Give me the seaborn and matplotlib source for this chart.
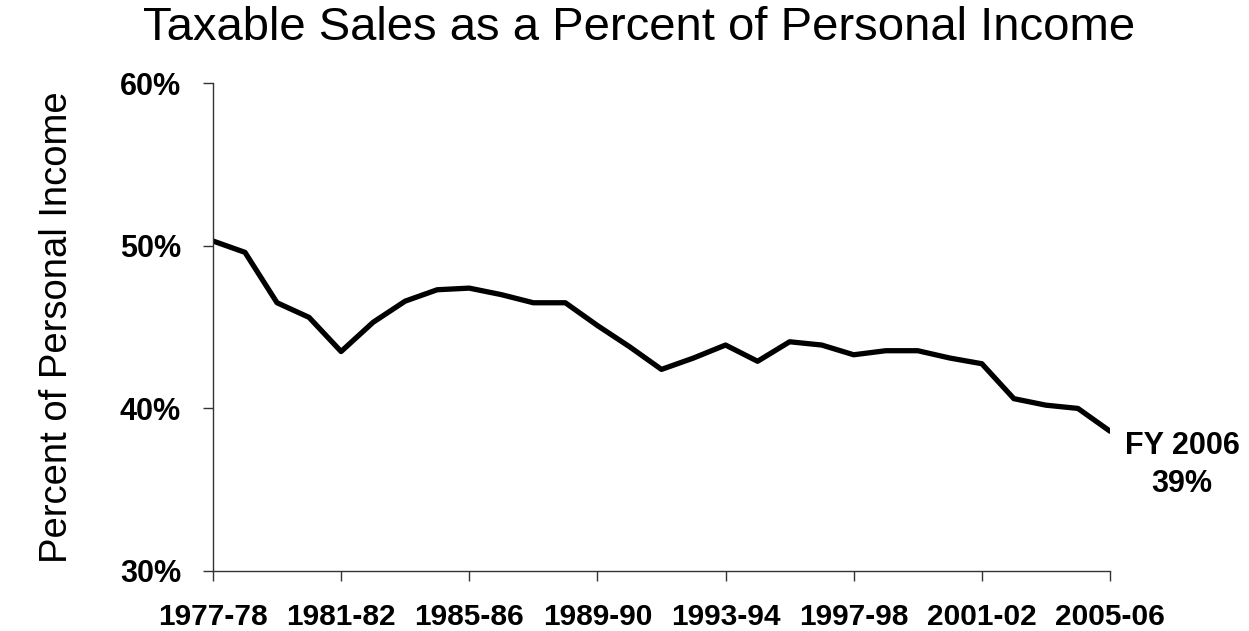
import matplotlib

matplotlib.use("Agg")

import matplotlib.pyplot as plt
import pandas as pd
import seaborn as sns

fiscal_years = [
    "1977-78", "1978-79", "1979-80", "1980-81", "1981-82", "1982-83",
    "1983-84", "1984-85", "1985-86", "1986-87", "1987-88", "1988-89",
    "1989-90", "1990-91", "1991-92", "1992-93", "1993-94", "1994-95",
    "1995-96", "1996-97", "1997-98", "1998-99", "1999-00", "2000-01",
    "2001-02", "2002-03", "2003-04", "2004-05", "2005-06",
]
pct_of_income = [
    50.3, 49.6, 46.5, 45.6, 43.5, 45.3,
    46.6, 47.3, 47.4, 47.0, 46.5, 46.5,
    45.1, 43.8, 42.4, 43.1, 43.9, 42.9,
    44.1, 43.9, 43.3, 43.55, 43.55, 43.1,
    42.75, 40.6, 40.2, 40.0, 38.6,
]
tick_labels = fiscal_years[::4]
y_ticks = [30, 40, 50, 60]

sns.set_style("ticks")
plt.rcParams["font.family"] = ["Liberation Sans", "DejaVu Sans"]
plt.rcParams["text.color"] = "black"
plt.rcParams["axes.labelcolor"] = "black"
plt.rcParams["xtick.color"] = "black"
plt.rcParams["ytick.color"] = "black"

df = pd.DataFrame({"idx": range(len(fiscal_years)), "pct": pct_of_income})

fig = plt.figure(figsize=(12.49, 6.31), dpi=100)
ax = fig.add_axes([0.1705, 0.0951, 0.7182, 0.7729])
sns.lineplot(data=df, x="idx", y="pct", ax=ax, color="black", linewidth=3.8)

ax.set_xlim(0, len(fiscal_years) - 1)
ax.set_ylim(30, 60)
ax.set_xticks(range(0, len(fiscal_years), 4))
ax.set_xticklabels(tick_labels, fontsize=21.5, fontweight="bold")
ax.set_yticks(y_ticks)
ax.set_yticklabels([f"{v}%" for v in y_ticks], fontsize=22, fontweight="bold")
ax.tick_params(axis="both", length=7, width=1, color="#333333")
ax.tick_params(axis="x", pad=16)
ax.tick_params(axis="y", pad=16)

for side in ["top", "right"]:
    ax.spines[side].set_visible(False)
for side in ["left", "bottom"]:
    ax.spines[side].set_linewidth(1)
    ax.spines[side].set_color("#333333")

ax.set_xlabel("")
ax.set_ylabel("Percent of Personal Income", fontsize=27.5, labelpad=32)
fig.suptitle("Taxable Sales as a Percent of Personal Income",
             fontsize=34, x=0.512, y=0.99)

ax.annotate("FY 2006\n39%", xy=(len(fiscal_years) - 1, pct_of_income[-1]),
            xytext=(1182, 631 - 465), textcoords="figure pixels",
            fontsize=22, fontweight="bold", ha="center", va="center",
            linespacing=1.35, annotation_clip=False)

fig.savefig("out.png", dpi=100)
plt.close(fig)
